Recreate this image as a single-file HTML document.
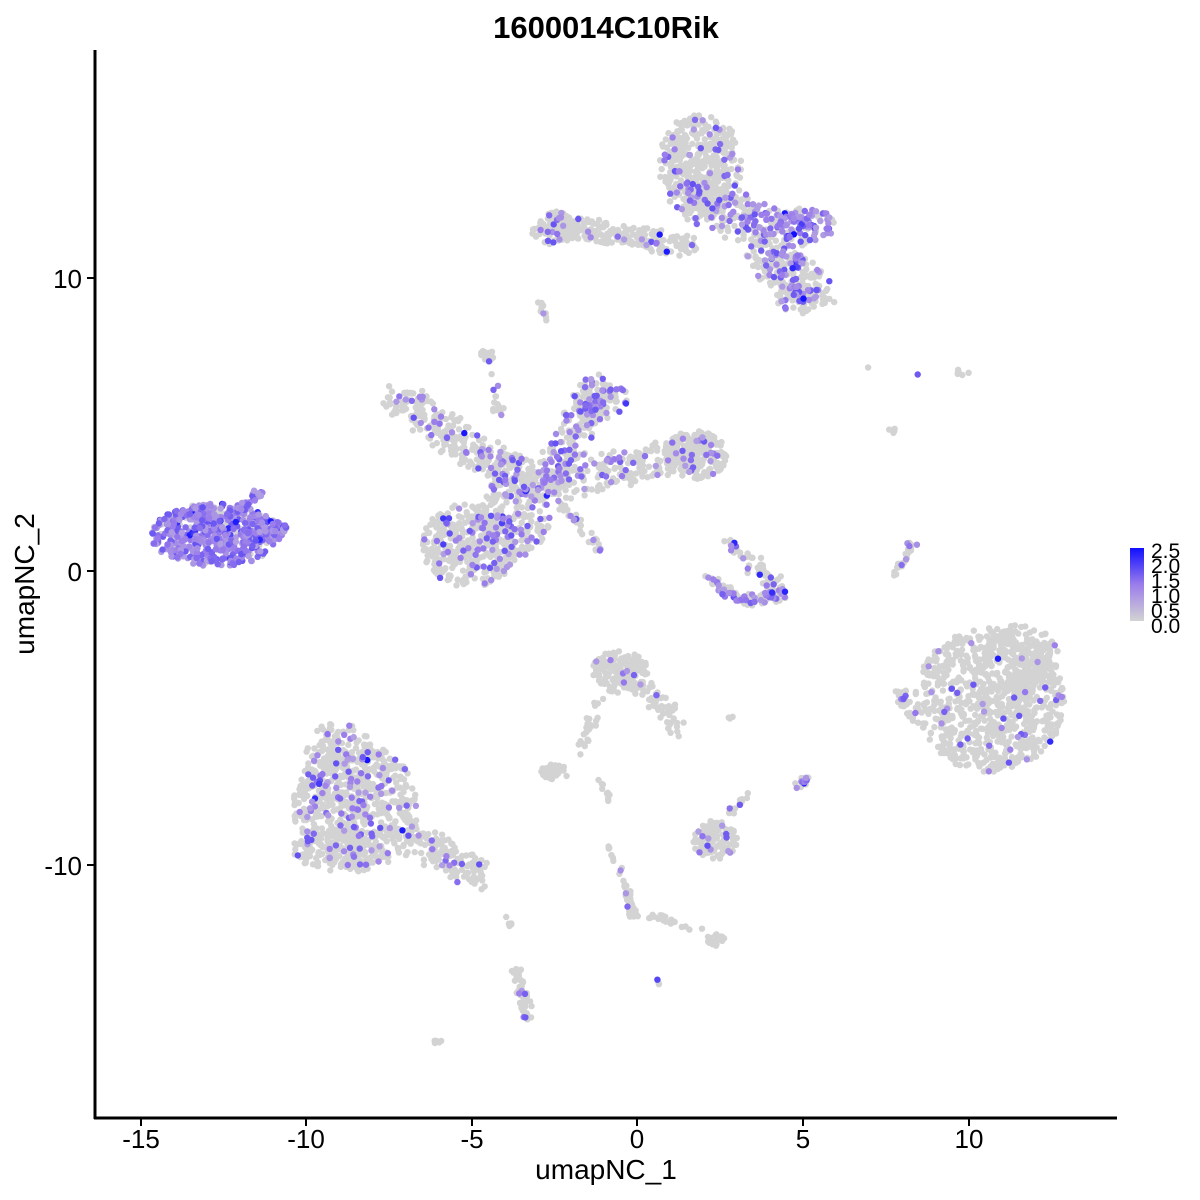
<!DOCTYPE html>
<html><head><meta charset="utf-8"><style>
html,body{margin:0;padding:0;background:#fff;}
svg{display:block;font-family:"Liberation Sans",sans-serif;}
</style></head><body>
<svg id="s" width="1200" height="1200" xmlns="http://www.w3.org/2000/svg">
<defs><linearGradient id="g" x1="0" y1="1" x2="0" y2="0"><stop offset="0" stop-color="#d3d3d3"/><stop offset="0.5" stop-color="#9b7deb"/><stop offset="1" stop-color="#1010ff"/></linearGradient></defs>
<g id="pts"></g>
<line x1="95" y1="50" x2="95" y2="1119" stroke="#000" stroke-width="3"/>
<line x1="94" y1="1118" x2="1117" y2="1118" stroke="#000" stroke-width="3"/>
<g stroke="#000" stroke-width="2">
<line x1="141" y1="1118" x2="141" y2="1126"/><line x1="306" y1="1118" x2="306" y2="1126"/><line x1="472" y1="1118" x2="472" y2="1126"/><line x1="637" y1="1118" x2="637" y2="1126"/><line x1="803" y1="1118" x2="803" y2="1126"/><line x1="969" y1="1118" x2="969" y2="1126"/>
<line x1="87" y1="278" x2="95" y2="278"/><line x1="87" y1="571" x2="95" y2="571"/><line x1="87" y1="865" x2="95" y2="865"/>
</g>
<g font-size="26" fill="#000" text-anchor="middle">
<text x="141" y="1148">-15</text><text x="306" y="1148">-10</text><text x="472" y="1148">-5</text><text x="637" y="1148">0</text><text x="803" y="1148">5</text><text x="969" y="1148">10</text>
</g>
<g font-size="26" fill="#000" text-anchor="end">
<text x="82" y="288">10</text><text x="82" y="581">0</text><text x="82" y="875">-10</text>
</g>
<text x="606" y="1179" font-size="28" text-anchor="middle">umapNC_1</text>
<text x="0" y="0" font-size="28" text-anchor="middle" transform="translate(34,584) rotate(-90)">umapNC_2</text>
<text x="606" y="38" font-size="31" font-weight="bold" text-anchor="middle">1600014C10Rik</text>
<rect x="1130" y="548" width="14" height="73" fill="url(#g)"/>
<g font-size="21" fill="#000">
<text x="1151" y="558">2.5</text><text x="1151" y="573">2.0</text><text x="1151" y="588">1.5</text><text x="1151" y="603">1.0</text><text x="1151" y="618">0.5</text><text x="1151" y="633">0.0</text>
</g>
</svg>
<script>
var seed=7;function r(){seed=(seed*16807)%2147483647;return seed/2147483647;}
var out=[],pur=[];
function lerp(a,b,t){return Math.round(a+(b-a)*t);}
function col(p){if(r()>p)return null;var t=0.3+r()*0.4;if(r()<0.04)t=0.75+r()*0.25;var R,G,B;
if(t<0.5){var u=t/0.5;R=lerp(211,155,u);G=lerp(211,125,u);B=lerp(211,235,u);}else{var u=(t-0.5)/0.5;R=lerp(155,16,u);G=lerp(125,16,u);B=lerp(235,255,u);}
return "rgb("+R+","+G+","+B+")";}
function add(x,y,p){var c=col(p);var s='<circle cx="'+x.toFixed(1)+'" cy="'+y.toFixed(1)+'" r="3.2" fill="'+(c||"#d3d3d3")+'"/>';if(c)pur.push(s);else out.push(s);}
function blob(cx,cy,rx,ry,n,p){for(var i=0;i<n;i++){var a=r()*6.283,d=Math.pow(r(),0.55);add(cx+Math.cos(a)*d*rx,cy+Math.sin(a)*d*ry,p);}}
function seg(x1,y1,x2,y2,w,n,p){for(var i=0;i<n;i++){var t=r();add(x1+(x2-x1)*t+(r()-.5)*w,y1+(y2-y1)*t+(r()-.5)*w,p);}}
// left purple
blob(215,535,64,32,550,0.85);blob(265,530,22,12,80,0.9);seg(240,510,260,490,10,25,0.8);
// bottom left
blob(355,805,62,62,600,0.15);blob(340,760,35,40,150,0.12);seg(400,830,485,880,28,150,0.08);blob(345,850,55,22,150,0.08);
// right
blob(990,700,75,72,850,0.05);blob(1020,660,40,35,180,0.05);seg(900,690,915,720,12,30,0.1);
// center star
blob(470,545,48,42,380,0.15);blob(515,515,35,42,200,0.2);seg(395,395,480,455,32,190,0.15);seg(480,455,545,485,30,160,0.25);seg(545,485,600,390,32,180,0.3);
seg(545,485,700,450,34,220,0.2);blob(695,455,32,24,200,0.08);seg(545,485,600,550,8,40,0.2);seg(490,350,500,420,10,20,0.1);blob(488,355,8,6,12,0);
blob(600,400,28,22,80,0.35);
// top
blob(700,165,42,52,420,0.1);seg(560,225,690,245,22,200,0.12);blob(555,228,24,17,100,0.12);seg(700,200,790,240,40,220,0.4);blob(805,225,30,17,90,0.7);seg(760,255,820,290,34,180,0.25);blob(800,298,24,17,70,0.2);seg(540,300,545,320,6,10,0.1);
// small triangle
seg(710,580,745,600,12,50,0.4);seg(745,600,785,595,12,50,0.4);seg(730,540,780,590,16,60,0.25);
// center bottom
blob(620,672,28,22,150,0.05);seg(630,670,680,730,18,70,0.03);seg(600,700,580,750,10,25,0);blob(555,772,14,8,45,0);seg(600,780,610,800,5,10,0);
blob(715,840,22,20,120,0.08);seg(730,815,750,790,8,15,0.1);blob(803,783,8,8,15,0.6);
seg(620,870,635,920,8,35,0.1);seg(650,915,700,930,6,20,0);blob(715,940,12,6,30,0);seg(610,845,612,860,4,6,0);
seg(515,970,530,1020,10,50,0.1);seg(505,915,510,925,4,5,0);blob(438,1042,4,3,5,0);blob(658,982,3,3,3,0.6);
seg(895,575,915,540,8,30,0.2);blob(893,430,4,6,5,0);blob(963,372,6,5,6,0);blob(870,368,2,2,1,0);blob(918,376,2,2,1,0.6);blob(730,718,3,3,3,0);
document.getElementById('pts').innerHTML=out.join('')+pur.join('');
</script>
</body></html>
